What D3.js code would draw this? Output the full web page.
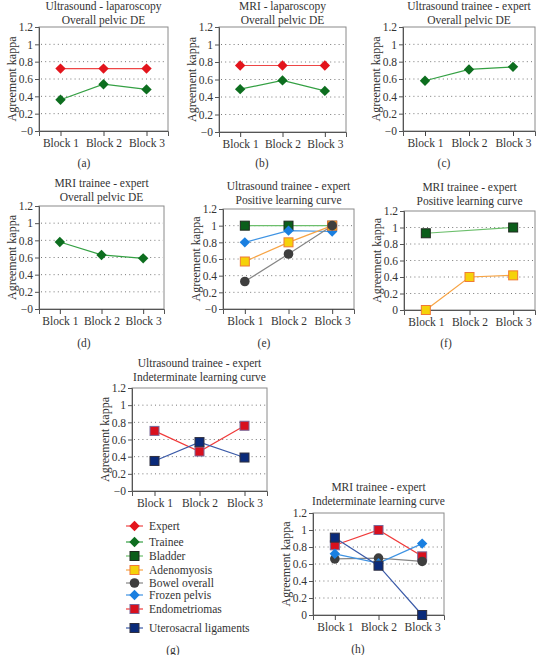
<!DOCTYPE html>
<html><head><meta charset="utf-8">
<script src="https://cdn.jsdelivr.net/npm/d3@7"></script>
<style>body{margin:0;background:#fff}svg{display:block}</style>
</head><body><svg id="c" width="538" height="655"></svg>
<script>
const FONT = "'Liberation Serif', 'Times New Roman', Times, 'DejaVu Serif', serif";
// ---------- data ----------
const blocks = ["Block 1", "Block 2", "Block 3"];
const yTicks = [0, 0.2, 0.4, 0.6, 0.8, 1, 1.2];
const gridTicks = [0.2, 0.4, 0.6, 0.8, 1];

const aExpert = [0.72, 0.72, 0.72];
const aTrainee = [0.36, 0.54, 0.48];
const bExpert = [0.76, 0.76, 0.76];
const bTrainee = [0.49, 0.59, 0.47];
const cTrainee = [0.58, 0.71, 0.74];
const dTrainee = [0.78, 0.63, 0.59];
const eBladder = [1, 1, 1];
const eAdenomyosis = [0.57, 0.80, 1.0];
const eBowel = [0.33, 0.66, 1.0];
const eFrozen = [0.80, 0.94, 0.93];
const fBladder = [0.93, null, 1.0];
const fAdenomyosis = [0, 0.40, 0.42];
const gEndometriomas = [0.70, 0.46, 0.76];
const gUterosacral = [0.35, 0.57, 0.39];
const hEndometriomas = [0.82, 1.0, 0.69];
const hBowel = [0.66, 0.67, 0.63];
const hFrozen = [0.72, 0.61, 0.84];
const hUterosacral = [0.91, 0.58, 0];

const legendNames = ["Expert", "Trainee", "Bladder", "Adenomyosis", "Bowel overall", "Frozen pelvis", "Endometriomas", "Uterosacral ligaments"];
const legendKeys = ["expert", "trainee", "bladder", "adeno", "bowel", "frozen", "endo", "utero"];

// ---------- styles ----------
const styles = {
  expert: {shape: "diamond", fill: "#e3141c", stroke: "none", line: "#ee4646"},
  trainee: {shape: "diamond", fill: "#0d6e1f", stroke: "none", line: "#34a043"},
  bladder: {shape: "square", fill: "#0b5e1a", stroke: "#1e2a1e", line: "#6cbf6c"},
  adeno: {shape: "square", fill: "#f5d20a", stroke: "#f07a36", line: "#f7a445"},
  bowel: {shape: "circle", fill: "#3e3e3e", stroke: "none", line: "#858585"},
  frozen: {shape: "diamond", fill: "#1a7fe0", stroke: "none", line: "#3e93e3"},
  endo: {shape: "square", fill: "#d8101e", stroke: "#7a6a9a", line: "#f03a3a"},
  utero: {shape: "square", fill: "#0a2a7a", stroke: "#303040", line: "#3a5aa8"}
};

const panels = [
  {t: ["Ultrasound - laparoscopy", "Overall pelvic DE"], tag: "(a)", L: 39, R: 168, T: 27, B: 131, ty: 6, tagX: 84, tagY: 163, zero: "\u22120",
   series: [["expert", aExpert], ["trainee", aTrainee]]},
  {t: ["MRI - laparoscopy", "Overall pelvic DE"], tag: "(b)", L: 219, R: 346, T: 27, B: 132, ty: 6, tagX: 262, tagY: 163, zero: "\u22120",
   series: [["expert", bExpert], ["trainee", bTrainee]]},
  {t: ["Ultrasound trainee - expert", "Overall pelvic DE"], tag: "(c)", L: 403, R: 535, T: 27, B: 131, ty: 6, tagX: 444, tagY: 163, zero: "\u22120",
   series: [["trainee", cTrainee]]},
  {t: ["MRI trainee - expert", "Overall pelvic DE"], tag: "(d)", L: 39, R: 164, T: 206, B: 309, ty: 183, tagX: 84, tagY: 343, zero: "\u22120",
   series: [["trainee", dTrainee]]},
  {t: ["Ultrasound trainee - expert", "Positive learning curve"], tag: "(e)", L: 223, R: 354, T: 209, B: 309, ty: 186, tagX: 264, tagY: 343, zero: "\u22120",
   series: [["bladder", eBladder], ["frozen", eFrozen], ["adeno", eAdenomyosis], ["bowel", eBowel]]},
  {t: ["MRI trainee - expert", "Positive learning curve"], tag: "(f)", L: 404, R: 535, T: 211, B: 310, ty: 187, tagX: 446, tagY: 343, zero: "0",
   series: [["bladder", fBladder], ["adeno", fAdenomyosis]]},
  {t: ["Ultrasound trainee - expert", "Indeterminate learning curve"], tag: "(g)", L: 132, R: 267, T: 388, B: 491, ty: 363, tagX: 173, tagY: 650, zero: "\u22120",
   series: [["endo", gEndometriomas], ["utero", gUterosacral]]},
  {t: ["MRI trainee - expert", "Indeterminate learning curve"], tag: "(h)", L: 313, R: 444, T: 513, B: 615, ty: 487, tagX: 358, tagY: 649, zero: "0",
   series: [["endo", hEndometriomas], ["bowel", hBowel], ["frozen", hFrozen], ["utero", hUterosacral]]}
];

const svg = d3.select("#c");

function marker(g, key, x, y) {
  const s = styles[key];
  if (s.shape === "diamond") {
    g.append("path").attr("d", `M${x},${y-5.2}L${x+5.2},${y}L${x},${y+5.2}L${x-5.2},${y}Z`).attr("fill", s.fill);
  } else if (s.shape === "square") {
    g.append("rect").attr("x", x-4.5).attr("y", y-4.5).attr("width", 9).attr("height", 9)
      .attr("fill", s.fill).attr("stroke", s.stroke).attr("stroke-width", 1);
  } else {
    g.append("circle").attr("cx", x).attr("cy", y).attr("r", 4.8).attr("fill", s.fill);
  }
}

function txt(sel, size) {
  return sel.style("font-family", FONT).style("font-size", size + "px").style("fill", "#333");
}

panels.forEach(p => {
  const g = svg.append("g");
  const x = d3.scalePoint().domain(blocks).range([p.L, p.R]).padding(0.5);
  const y = d3.scaleLinear().domain([0, 1.2]).range([p.B, p.T]);
  g.selectAll(".grid").data(gridTicks).join("line")
    .attr("x1", p.L + 2).attr("x2", p.R - 1).attr("y1", d => y(d)).attr("y2", d => y(d))
    .attr("stroke", "#777").attr("stroke-width", 1).attr("stroke-dasharray", "1,3.2");
  g.append("rect").attr("x", p.L).attr("y", p.T).attr("width", p.R - p.L).attr("height", p.B - p.T)
    .attr("fill", "none").attr("stroke", "#8a8a8a").attr("stroke-width", 1);
  const ya = d3.axisLeft(y).tickValues(yTicks).tickSize(4).tickPadding(2)
    .tickFormat(d => d === 0 ? p.zero : d3.format("~g")(d));
  const yg = g.append("g").attr("transform", `translate(${p.L},0)`).call(ya);
  yg.attr("font-family", null).attr("font-size", null);
  yg.select(".domain").attr("stroke", "#555");
  yg.selectAll(".tick line").attr("stroke", "#555");
  txt(yg.selectAll("text"), 11.5);
  const xa = d3.axisBottom(x).tickSize(5).tickPadding(3);
  const xg = g.append("g").attr("transform", `translate(0,${p.B})`).call(xa);
  xg.attr("font-family", null).attr("font-size", null);
  xg.select(".domain").attr("stroke", "#555");
  xg.selectAll(".tick line").attr("stroke", "#444");
  txt(xg.selectAll("text"), 11.5);
  p.t.forEach((t, i) => txt(g.append("text").attr("x", (p.L + p.R) / 2).attr("y", p.ty + i * 13.5)
    .attr("text-anchor", "middle").attr("dominant-baseline", "central"), 11.5).text(t));
  txt(g.append("text").attr("transform", `translate(${p.L - 27},${(p.T + p.B) / 2}) rotate(-90)`)
    .attr("text-anchor", "middle").attr("dominant-baseline", "central"), 12).text("Agreement kappa");
  txt(g.append("text").attr("x", p.tagX).attr("y", p.tagY).attr("text-anchor", "middle")
    .attr("dominant-baseline", "central"), 11.5).text(p.tag);
  p.series.forEach(([key, vals]) => {
    const pts = blocks.map((b, i) => [b, vals[i]]).filter(d => d[1] !== null);
    g.append("path").attr("d", d3.line().x(d => x(d[0])).y(d => y(d[1]))(pts))
      .attr("fill", "none").attr("stroke", styles[key].line).attr("stroke-width", 1.2);
  });
  p.series.forEach(([key, vals]) => {
    blocks.forEach((b, i) => { if (vals[i] !== null) marker(g, key, x(b), y(vals[i])); });
  });
});

const legY = [526, 542, 556, 570, 583, 595, 609, 628];
const lg = svg.append("g");
legendKeys.forEach((k, i) => {
  lg.append("line").attr("x1", 126).attr("x2", 143).attr("y1", legY[i]).attr("y2", legY[i])
    .attr("stroke", styles[k].line).attr("stroke-width", 1.2);
  marker(lg, k, 134.5, legY[i]);
  txt(lg.append("text").attr("x", 149).attr("y", legY[i]).attr("dominant-baseline", "central"), 11.5)
    .text(legendNames[i]);
});
</script></body></html>
